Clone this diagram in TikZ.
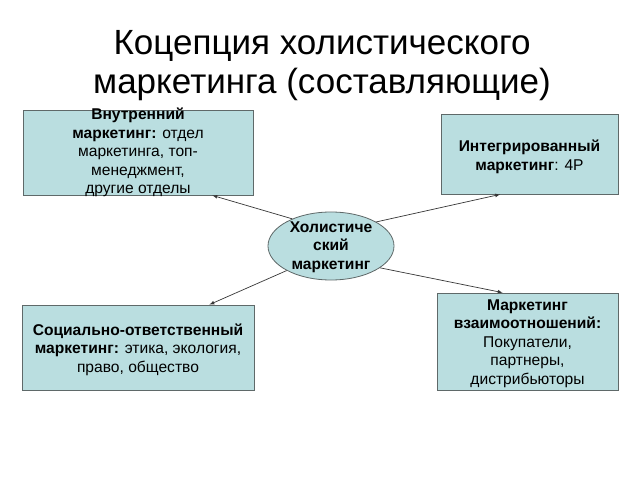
\documentclass[tikz,border=0pt]{standalone}
\usepackage{fontspec}
\setmainfont{Liberation Sans}
\usepackage{tikz}
\usetikzlibrary{shapes,arrows,positioning}
\definecolor{boxfill}{RGB}{186, 222, 224}
\definecolor{boxline}{RGB}{95, 105, 105}
\definecolor{arrowline}{RGB}{55, 55, 55}
\tikzstyle{block} = [rectangle, draw=boxline, line width=0.8pt, fill=boxfill, inner sep=0pt]
\tikzstyle{holistic} = [ellipse, draw=boxline, line width=0.8pt, fill=boxfill, minimum width=126pt, minimum height=68pt, inner sep=0pt]
\tikzstyle{blocktext} = [draw=none, fill=none, align=center, inner sep=0pt, font=\fontsize{15.6}{18.5}\selectfont]
\tikzstyle{titletext} = [draw=none, fill=none, align=center, inner sep=0pt, font=\fontsize{35}{39}\selectfont]
\tikzstyle{tedge}  = [draw=arrowline, line width=0.7pt, >=latex, ->]

\begin{document}
\begin{tikzpicture}[auto]

\useasboundingbox[fill=white] (0pt,0pt) rectangle (640pt,480pt);

% title
\node[titletext] (title) at (322pt,414pt) {Коцепция холистического\\маркетинга (составляющие)};

% centre
\node[holistic] (holist) at (331pt,234pt) {};
\node[blocktext, yshift=-1pt] (holisttext) at (holist.center) {\textbf{Холистиче}\\\textbf{ский}\\\textbf{маркетинг}};

% boxes
\node[block, on grid, minimum width=230pt, minimum height=85pt, above left=93.5pt and 193pt of holist] (inner) {};
\node[block, on grid, minimum width=177pt, minimum height=80pt, above right=92pt and 198.5pt of holist] (integr) {};
\node[block, on grid, minimum width=232pt, minimum height=85pt, below left=101.5pt and 193pt of holist] (social) {};
\node[block, on grid, minimum width=181pt, minimum height=97pt, below right=95.5pt and 196.5pt of holist] (relat) {};

% text only
\node[blocktext] (innertext) at (inner.center) {\textbf{Внутренний}\\\textbf{маркетинг:} отдел\\маркетинга, топ-\\менеджмент,\\другие отделы};
\node[blocktext, yshift=-3pt] (integrtext) at (integr.center) {\textbf{Интегрированный}\\\textbf{маркетинг}: 4P};
\node[blocktext, yshift=-2pt] (socialtext) at (social.center) {\textbf{Социально-ответственный}\\\textbf{маркетинг:} этика, экология,\\право, общество};
\node[blocktext, yshift=-2pt] (relattext) at (relat.center) {\textbf{Маркетинг}\\\textbf{взаимоотношений:}\\Покупатели,\\партнеры,\\дистрибьюторы};

% edges
\path[tedge] (holist.145) -- (inner.-30);
\path[tedge] (holist.28) -- (integr.-126);
\path[tedge] (holist.209) -- (social.31);
\path[tedge] (holist.-24) -- (relat.117);

\end{tikzpicture}
\end{document}
